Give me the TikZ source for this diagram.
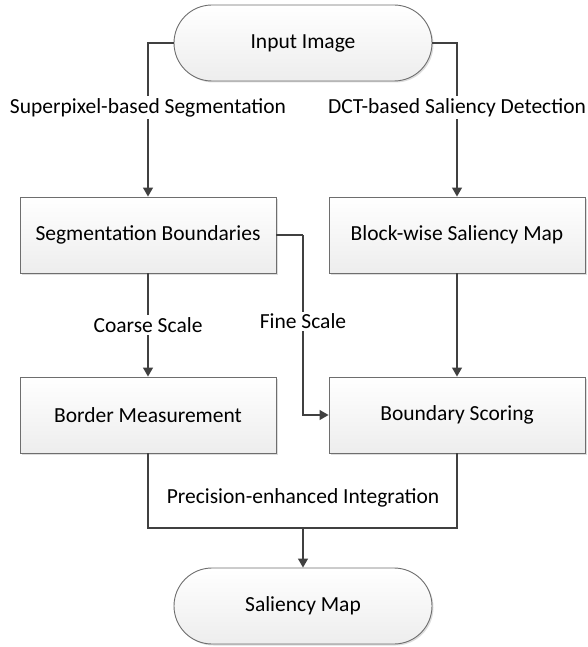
\documentclass[tikz,border=0pt]{standalone}
\usepackage{fontspec}
\setmainfont{Carlito}
\usetikzlibrary{arrows.meta,shadows}
\definecolor{linegray}{HTML}{404040}
\definecolor{boxgray}{HTML}{6E6E6E}
\begin{document}
\begin{tikzpicture}[x=1pt, y=-1pt,
    font=\fontsize{21.5}{25}\selectfont,
    box/.style={draw=boxgray, line width=0.9pt, top color=white, bottom color=gray!14,
        minimum width=256pt, minimum height=76pt,
        drop shadow={shadow xshift=1.5pt, shadow yshift=-1.5pt, fill=gray!45, opacity=0.6}},
    term/.style={box, rounded corners=38pt, minimum width=258pt},
    arr/.style={draw=linegray, line width=1.2pt, -{Triangle[width=10pt,length=9pt]}},
    con/.style={draw=linegray, line width=1.2pt},
    lbl/.style={fill=white, inner sep=2pt}]
        \useasboundingbox (0,0) rectangle (588,647);

        % Eingang
        \node[term] (in) at (303, 43) {Input Image};

        % Zweige
        \node[box] (seg) at (148, 235) {Segmentation Boundaries};
        \node[box] (blk) at (457, 235) {Block-wise Saliency Map};
        \node[box] (bor) at (148, 415) {Border Measurement};
        \node[box] (sco) at (457, 415) {Boundary Scoring};

        % Ausgang
        \node[term] (sal) at (303, 606) {Saliency Map};

        % Hilfspunkte
        \coordinate (fine) at (303, 235);
        \coordinate (mrg) at (303, 528);

        % Verbindungen
        \draw[arr] (in.west) -| node[lbl, pos=0.71] {Superpixel-based Segmentation} (seg.north);
        \draw[arr] (in.east) -| node[lbl, pos=0.71] {DCT-based Saliency Detection} (blk.north);
        \draw[arr] (seg.south) -- node[lbl, midway] {Coarse Scale} (bor.north);
        \draw[con] (seg.east) -- (fine);
        \draw[arr] (fine) |- node[lbl, pos=0.24] {Fine Scale} (sco.west);
        \draw[arr] (blk.south) -- (sco.north);

        % Integration
        \draw[con] (bor.south) |- (mrg) -| (sco.south);
        \node (int) at (303, 498) {Precision-enhanced Integration};
        \draw[arr] (mrg) -- (sal.north);

    \end{tikzpicture}
\end{document}
